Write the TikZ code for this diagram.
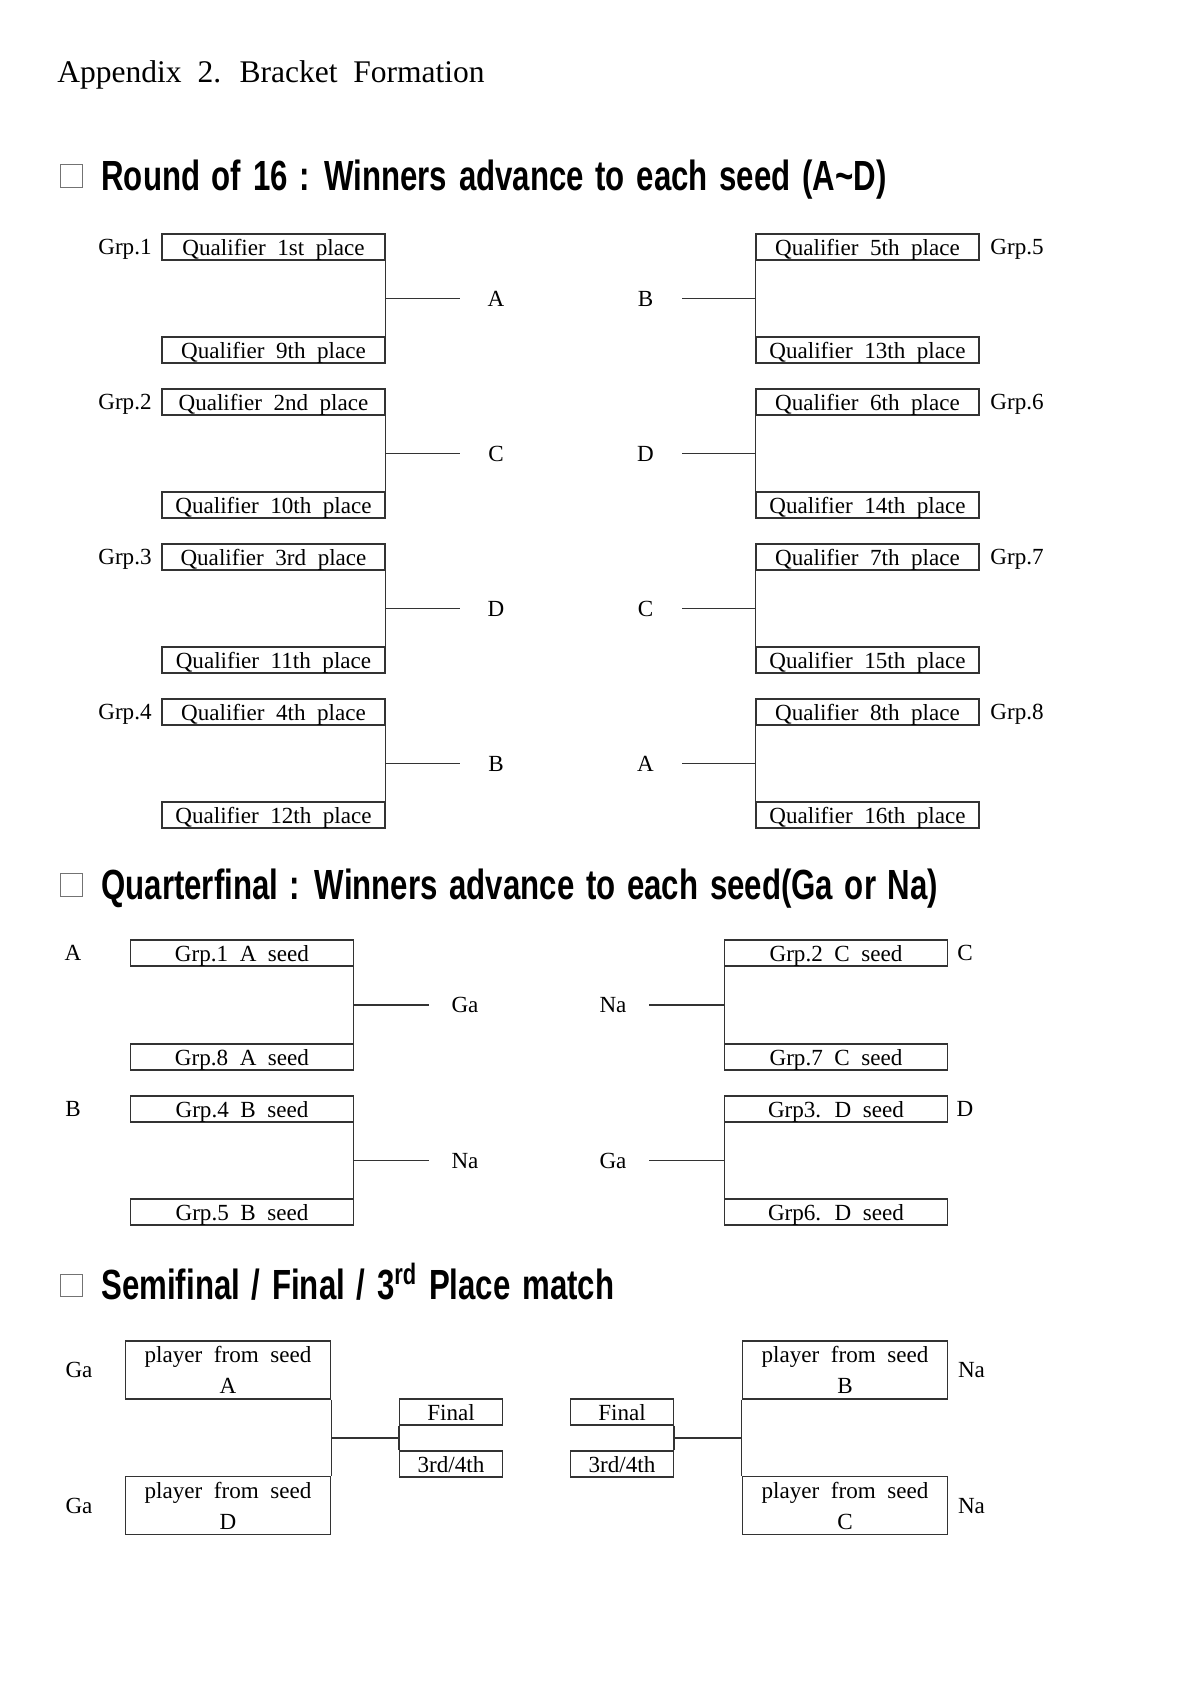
\documentclass[tikz,border=0pt]{standalone}
\usepackage{fontspec}
\setmainfont{Liberation Serif}[WordSpace=2]
\newfontfamily\headfont{Liberation Sans}[FakeStretch=0.74,WordSpace=1.35]
\usetikzlibrary{positioning,calc}

\begin{document}
\begin{tikzpicture}[x=0.0175cm,y=-0.0175cm,
  frame/.style={draw=black!80,line width=0.6pt,inner sep=0pt},
  slot/.style={frame,minimum width=3.9cm,minimum height=0.455cm,text depth=0pt,
               font=\fontsize{11.5}{13}\selectfont},
  qslot/.style={slot,minimum width=3.89cm},
  pslot/.style={frame,minimum width=3.59cm,minimum height=1.015cm,align=center,
                font=\fontsize{11.5}{15.4}\selectfont},
  fslot/.style={slot,minimum width=1.8cm},
  lbl/.style={inner sep=0pt,text depth=0pt,font=\fontsize{11.5}{13}\selectfont},
  seed/.style={lbl,minimum width=1.26cm},
  link/.style={draw=black!80,line width=0.6pt},
  tick/.style={draw=black!55,line width=0.5pt,minimum size=0.4cm,inner sep=0pt},
  heading/.style={anchor=base west,inner sep=0pt,font=\headfont\bfseries\fontsize{21}{24}\selectfont}
]
\useasboundingbox (0,0) rectangle (1200,1698);

% Title and section headings
\node[anchor=base west,inner sep=0pt,font=\fontsize{15.7}{19}\selectfont] (title) at (57,82)
  {Appendix 2. Bracket Formation};
\node[tick] (t1) at (71.5,176) {};
\node[heading] (h1) at (101,190) {Round of 16 : Winners advance to each seed (A\textasciitilde D)};
\node[tick] (t2) at (71.5,885) {};
\node[heading] (h2) at (101,899) {Quarterfinal : Winners advance to each seed(Ga or Na)};
\node[tick] (t3) at (71.5,1285.5) {};
\node[heading] (h3) at (101,1299.5) {Semifinal / Final / 3\textsuperscript{rd} Place match};

% Round of 16 -- left half (x=273.5), rows every 155px
\node[slot] (q1)  at (273.5,247) {Qualifier 1st place};
\node[slot] (q9)  at (273.5,350) {Qualifier 9th place};
\node[slot] (q2)  at (273.5,402) {Qualifier 2nd place};
\node[slot] (q10) at (273.5,505) {Qualifier 10th place};
\node[slot] (q3)  at (273.5,557) {Qualifier 3rd place};
\node[slot] (q11) at (273.5,660) {Qualifier 11th place};
\node[slot] (q4)  at (273.5,712) {Qualifier 4th place};
\node[slot] (q12) at (273.5,815) {Qualifier 12th place};
\node[lbl,anchor=east] (g1) at (152,247) {Grp.1};
\node[lbl,anchor=east] (g2) at (152,402) {Grp.2};
\node[lbl,anchor=east] (g3) at (152,557) {Grp.3};
\node[lbl,anchor=east] (g4) at (152,712) {Grp.4};
\node[seed] (sl1) at (496,298.5) {A};
\node[seed] (sl2) at (496,453.5) {C};
\node[seed] (sl3) at (496,608.5) {D};
\node[seed] (sl4) at (496,763.5) {B};

% Round of 16 -- right half (x=867.5)
\node[slot] (q5)  at (867.5,247) {Qualifier 5th place};
\node[slot] (q13) at (867.5,350) {Qualifier 13th place};
\node[slot] (q6)  at (867.5,402) {Qualifier 6th place};
\node[slot] (q14) at (867.5,505) {Qualifier 14th place};
\node[slot] (q7)  at (867.5,557) {Qualifier 7th place};
\node[slot] (q15) at (867.5,660) {Qualifier 15th place};
\node[slot] (q8)  at (867.5,712) {Qualifier 8th place};
\node[slot] (q16) at (867.5,815) {Qualifier 16th place};
\node[lbl,anchor=west] (g5) at (990,247) {Grp.5};
\node[lbl,anchor=west] (g6) at (990,402) {Grp.6};
\node[lbl,anchor=west] (g7) at (990,557) {Grp.7};
\node[lbl,anchor=west] (g8) at (990,712) {Grp.8};
\node[seed] (sr1) at (645.5,298.5) {B};
\node[seed] (sr2) at (645.5,453.5) {D};
\node[seed] (sr3) at (645.5,608.5) {C};
\node[seed] (sr4) at (645.5,763.5) {A};

% Round of 16 brackets
\draw[link] (q1.south east) -- (q9.north east)   (q1.east |- sl1) -- (sl1.west);
\draw[link] (q2.south east) -- (q10.north east)  (q2.east |- sl2) -- (sl2.west);
\draw[link] (q3.south east) -- (q11.north east)  (q3.east |- sl3) -- (sl3.west);
\draw[link] (q4.south east) -- (q12.north east)  (q4.east |- sl4) -- (sl4.west);
\draw[link] (q5.south west) -- (q13.north west)  (q5.west |- sr1) -- (sr1.east);
\draw[link] (q6.south west) -- (q14.north west)  (q6.west |- sr2) -- (sr2.east);
\draw[link] (q7.south west) -- (q15.north west)  (q7.west |- sr3) -- (sr3.east);
\draw[link] (q8.south west) -- (q16.north west)  (q8.west |- sr4) -- (sr4.east);

% Quarterfinal
\node[qslot] (a1) at (242,953)  {Grp.1 A seed};
\node[qslot] (a8) at (242,1057) {Grp.8 A seed};
\node[qslot] (b4) at (242,1109) {Grp.4 B seed};
\node[qslot] (b5) at (242,1212) {Grp.5 B seed};
\node[qslot] (c2) at (836,953)  {Grp.2 C seed};
\node[qslot] (c7) at (836,1057) {Grp.7 C seed};
\node[qslot] (d3) at (836,1109) {Grp3. D seed};
\node[qslot] (d6) at (836,1212) {Grp6. D seed};
\node[lbl] (la) at (73,953)  {A};
\node[lbl] (lb) at (73,1109) {B};
\node[lbl] (lc) at (965,953)  {C};
\node[lbl] (ld) at (965,1109) {D};
\node[seed] (w1) at (465,1005)   {Ga};
\node[seed] (w2) at (465,1160.5) {Na};
\node[seed] (w3) at (613,1005)   {Na};
\node[seed] (w4) at (613,1160.5) {Ga};
\draw[link] (a1.south east) -- (a8.north east)  (a1.east |- w1) -- (w1.west);
\draw[link] (b4.south east) -- (b5.north east)  (b4.east |- w2) -- (w2.west);
\draw[link] (c2.south west) -- (c7.north west)  (c2.west |- w3) -- (w3.east);
\draw[link] (d3.south west) -- (d6.north west)  (d3.west |- w4) -- (w4.east);

% Semifinal / Final / 3rd place
\node[pslot] (pa) at (228,1370)    {player from seed\\A};
\node[pslot] (pd) at (228,1505.5)  {player from seed\\D};
\node[pslot] (pb) at (845,1370)    {player from seed\\B};
\node[pslot] (pc) at (845,1505.5)  {player from seed\\C};
\node[lbl] (ga1) at (79,1370)    {Ga};
\node[lbl] (ga2) at (79,1505.5)  {Ga};
\node[lbl] (na1) at (971.5,1370)   {Na};
\node[lbl] (na2) at (971.5,1505.5) {Na};
\node[fslot] (fl) at (451,1412) {Final};
\node[fslot] (tl) at (451,1464) {3rd/4th};
\node[fslot] (fr) at (622,1412) {Final};
\node[fslot] (tr) at (622,1464) {3rd/4th};
\coordinate (ml) at ($(fl.south west)!0.5!(tl.north west)$);
\coordinate (mr) at ($(fr.south east)!0.5!(tr.north east)$);
\draw[link] (pa.south east) -- (pd.north east)  (pa.east |- ml) -- (ml);
\draw[link] (fl.south west) -- (tl.north west);
\draw[link] (pb.south west) -- (pc.north west)  (pb.west |- mr) -- (mr);
\draw[link] (fr.south east) -- (tr.north east);
\end{tikzpicture}
\end{document}
